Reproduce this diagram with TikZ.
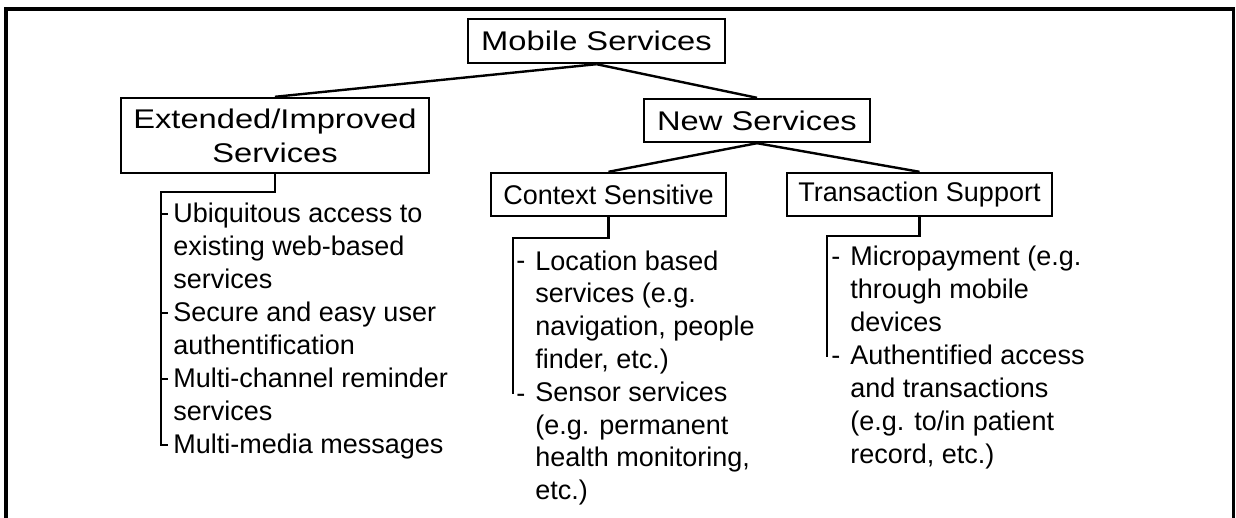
\documentclass[tikz,border=0pt]{standalone}
\usepackage{fontspec}
\setmainfont{Liberation Sans}
\newfontfamily\titlefont[FakeStretch=1.21]{Liberation Sans}
\begin{document}
\begin{tikzpicture}[x=0.5pt,y=-0.5pt,
  title/.style={draw, line width=1.2pt, inner sep=0pt, align=center,
    font={\titlefont\fontsize{13.5pt}{17pt}\selectfont}},
  sub/.style={draw, line width=1.2pt, inner sep=0pt, minimum height=21.5pt,
    font={\fontsize{13.5pt}{16.5pt}\selectfont}},
  listtext/.style={inner sep=0pt, align=left, anchor=base west,
    font={\fontsize{13.5pt}{16.5pt}\selectfont}},
  conn/.style={line width=1.2pt},
  frame/.style={line width=1.6pt}]
\useasboundingbox (0,0) rectangle (1236,518);
% outer frame (open at the bottom)
\coordinate (fl) at (6,520);
\coordinate (ftl) at (6,9);
\coordinate (ftr) at (1233.5,9);
\coordinate (fr) at (1233.5,520);
\draw[frame] (fl) -- (ftl) -- (ftr) -- (fr);

% boxes
\node[title, minimum width=128.5pt, minimum height=22pt] (mob) at (596.5,41) {Mobile Services};
\node[title, minimum width=154pt, minimum height=37.5pt] (ext) at (275,135.5) {Extended/Improved\\Services};
\node[title, minimum width=112.75pt, minimum height=21.5pt] (new) at (757,120.5) {New Services};
\node[sub, minimum width=117.5pt] (ctx) at (608.5,194.5) {Context Sensitive};
\node[sub, minimum width=132.5pt] (trn) at (919.5,194.5) {Transaction Support};

% tree connectors
\draw[conn] (mob.south) -- (ext.north);
\draw[conn] (mob.south) -- (new.north);
\draw[conn] (new.south) -- (ctx.north);
\draw[conn] (new.south) -- (trn.north);

% left list (anchor = baseline of the last line)
\node[listtext] (lst1) at (173,453) {Ubiquitous access to\\existing web-based\\services\\Secure and easy user\\authentification\\Multi-channel reminder\\services\\Multi-media messages};
\coordinate (la) at (161,192);
\coordinate (lb) at (161,445);
\coordinate (t1) at (161,214);
\coordinate (t2) at (161,313);
\coordinate (t3) at (161,379);
\draw[conn] (ext.south) |- (la) -- (lb) -- ++(7,0);
\draw[conn] (t1) -- ++(7,0);
\draw[conn] (t2) -- ++(7,0);
\draw[conn] (t3) -- ++(7,0);

% context list
\node[listtext, font={\fontsize{13.5pt}{16.4pt}\selectfont}] (lst2) at (535,499.6) {Location based\\services (e.g.\\navigation, people\\finder, etc.)\\Sensor services\\(e.g. permanent\\health monitoring,\\etc.)};
\node[listtext] (h21) at (516,270) {-};
\node[listtext] (h22) at (516,402) {-};
\coordinate (ca) at (513,238);
\coordinate (cb) at (513,394);
\draw[conn] (ctx.south) |- (ca) -- (cb);

% transaction list
\node[listtext] (lst3) at (850,463) {Micropayment (e.g.\\through mobile\\devices\\Authentified access\\and transactions\\(e.g. to/in patient\\record, etc.)};
\node[listtext] (h31) at (831,265) {-};
\node[listtext] (h32) at (831,364) {-};
\coordinate (ta) at (827,236);
\coordinate (tb) at (827,357);
\draw[conn] (trn.south) |- (ta) -- (tb);
\end{tikzpicture}
\end{document}
